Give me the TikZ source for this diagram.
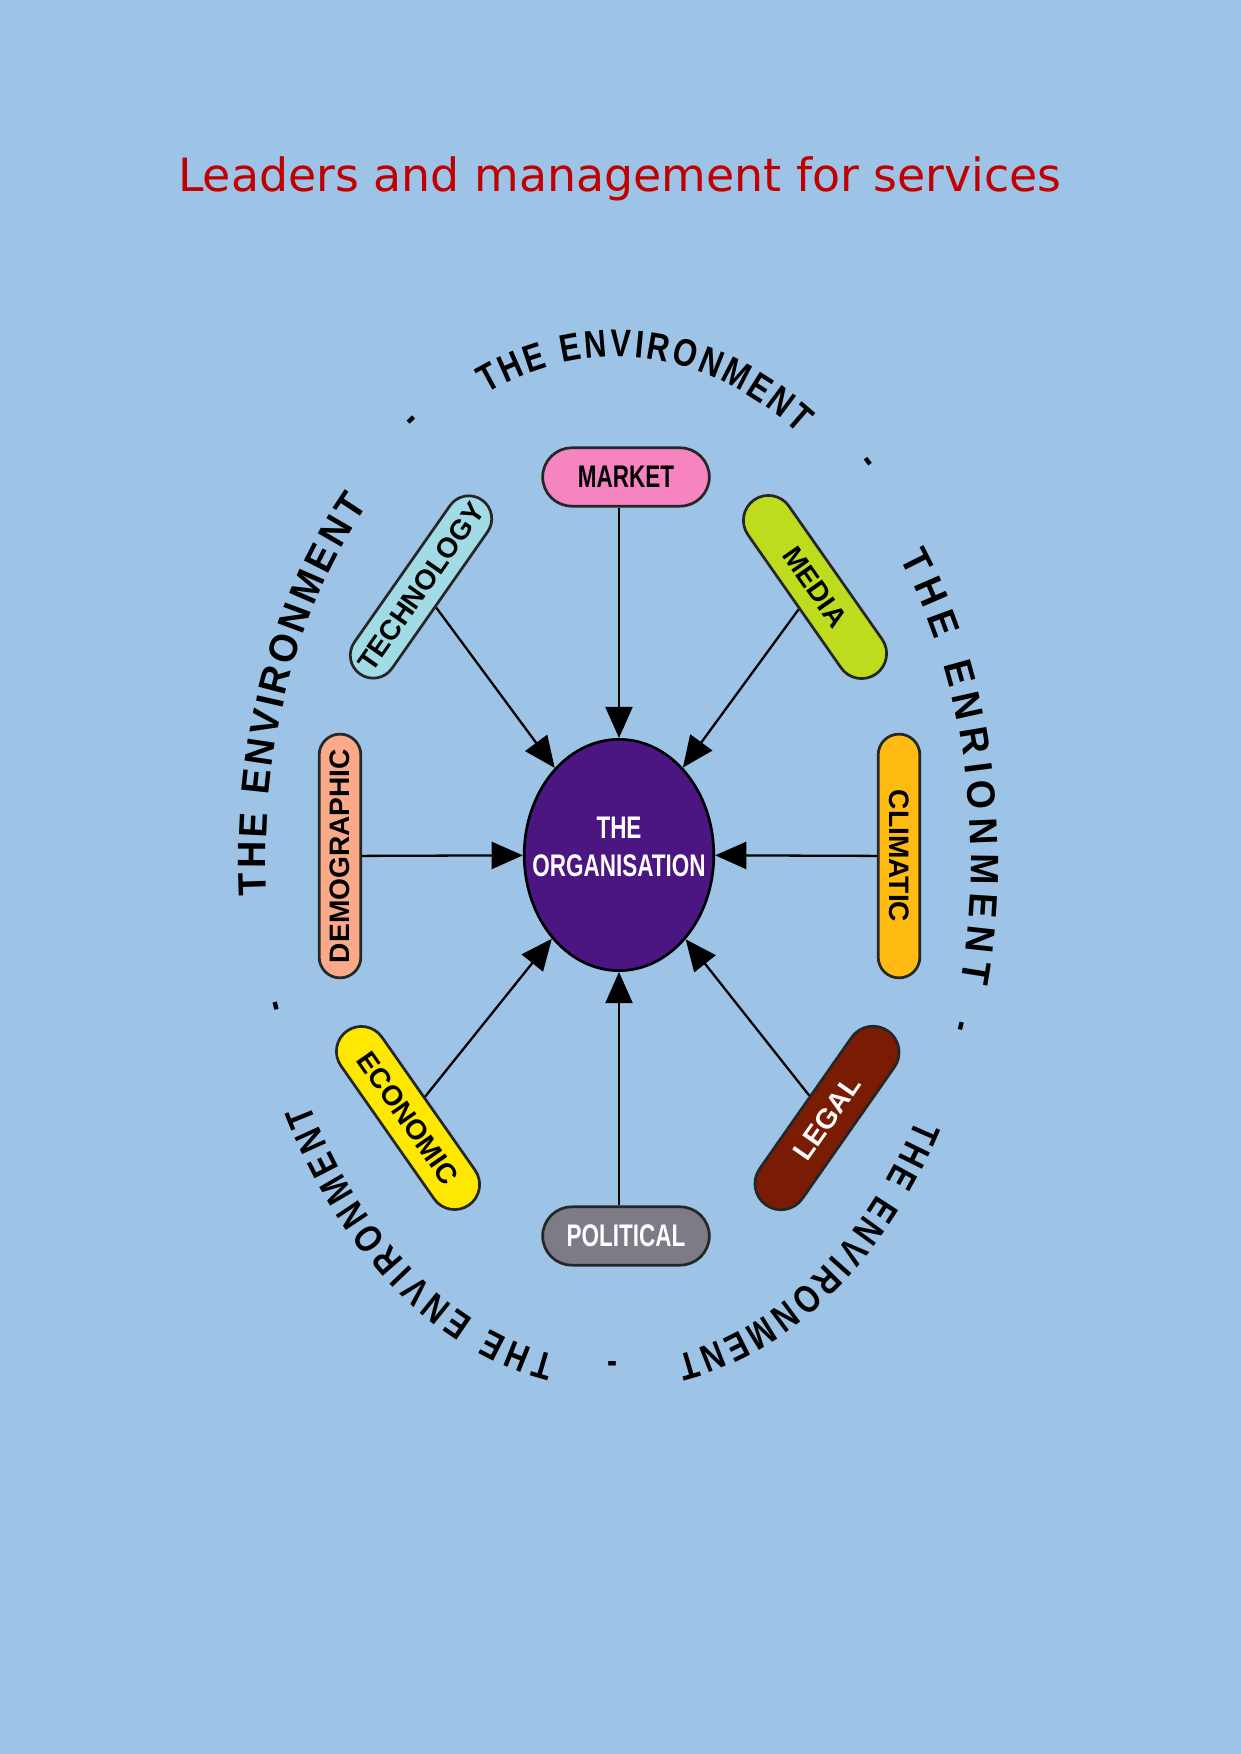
\documentclass[tikz,border=0pt]{standalone}
\usepackage{fontspec}
\setmainfont{DejaVu Sans}
\newfontfamily\lblfont[FakeStretch=0.72]{Liberation Sans}
\newfontfamily\sidefont{Liberation Sans}
\newfontfamily\ringfont[FakeStretch=0.8]{Liberation Sans}
\newfontfamily\sideringfont[FakeStretch=0.95]{Liberation Sans}
\newcommand\ringtop{\ringfont\bfseries\fontsize{18.5}{18}\selectfont}
\newcommand\ringside{\sideringfont\bfseries\fontsize{19}{18}\selectfont}
\usetikzlibrary{positioning,shapes.geometric,shapes.misc,arrows.meta,decorations.text}
\definecolor{sky}{RGB}{157,195,230}
\definecolor{titlered}{RGB}{192,0,0}
\definecolor{orgpurple}{RGB}{75,22,130}
\definecolor{mktpink}{RGB}{245,132,192}
\definecolor{techblue}{RGB}{161,220,230}
\definecolor{medialime}{RGB}{190,220,30}
\definecolor{demosalmon}{RGB}{250,170,136}
\definecolor{climorange}{RGB}{255,187,17}
\definecolor{econyellow}{RGB}{255,232,0}
\definecolor{legalred}{RGB}{122,28,4}
\definecolor{polgrey}{RGB}{125,123,134}

\begin{document}
\begin{tikzpicture}[x=0.48pt,y=0.48pt,
  box/.style={rounded rectangle,draw=black!85,line width=1.3pt,inner sep=2pt,
    font=\sidefont\bfseries\fontsize{13.5}{14}\selectfont,minimum width=108pt,minimum height=22pt},
  flat/.style={box,font=\lblfont\bfseries\fontsize{15}{15}\selectfont,minimum width=84pt,minimum height=28pt},
  arr/.style={line width=1.1pt,-{Triangle[length=15pt,width=13pt]}},
  ring/.style 2 args={decorate,decoration={text along path,text align={fit to path},text={|#2|#1}}},
  sepmark/.style={font=\ringfont\bfseries\fontsize{18}{18}\selectfont,inner sep=0pt}]
\fill[sky] (0,0) rectangle (1241,1754);
\useasboundingbox (0,0) rectangle (1241,1754);

\node[text=titlered,font=\fontsize{22}{26}\selectfont,anchor=base] (title) at (620,1562) {Leaders and management for services};

\coordinate (c) at (616,894);
\path[ring={THE ENVIRONMENT}{\ringtop}] (c) ++(112:345 and 503) arc[start angle=112,end angle=58,x radius=345,y radius=503];
\path[ring={THE ENRIONMENT}{\ringside}] (c) ++(37:355 and 503) arc[start angle=37,end angle=-14,x radius=355,y radius=503];
\path[ring={THE ENVIRONMENT}{\ringtop}] (c) ++(-31:350 and 503) arc[start angle=-31,end angle=-80,x radius=350,y radius=503];
\path[ring={THE ENVIRONMENT}{\ringtop}] (c) ++(-100:350 and 503) arc[start angle=-100,end angle=-151,x radius=350,y radius=503];
\path[ring={THE ENVIRONMENT}{\ringside}] (c) ++(184:350 and 503) arc[start angle=184,end angle=135,x radius=350,y radius=503];
\node[sepmark,rotate=44] (d1) at (414,1331) {-};
\node[sepmark,rotate=-53] (d2) at (865,1290) {-};
\node[sepmark,rotate=76] (d3) at (965,727) {-};
\node[sepmark] (d4) at (612,386) {-};
\node[sepmark,rotate=-77] (d5) at (272,747) {-};

\node[ellipse,fill=orgpurple,draw=black,line width=1.3pt,minimum width=91pt,minimum height=111pt,inner sep=0pt] (org) at (619,899) {};
\node[text=white,align=center,font=\lblfont\bfseries\fontsize{15}{18}\selectfont] (orgtext) at ([yshift=4pt]org.center) {THE\\ORGANISATION};

\node[flat,fill=mktpink] (mkt) at (626,1277) {MARKET};
\node[flat,fill=polgrey,text=white] (pol) at (626,518) {POLITICAL};
\node[box,fill=techblue,rotate=55,minimum width=106pt] (tech) at (421,1167) {TECHNOLOGY};
\node[box,fill=medialime,rotate=-55,minimum width=106pt,minimum height=24pt] (media) at (815,1167) {MEDIA};
\node[box,fill=demosalmon,rotate=90,minimum width=121pt,minimum height=20pt] (demo) at (340,898) {DEMOGRAPHIC};
\node[box,fill=climorange,rotate=-90,minimum width=121pt,minimum height=20pt] (clim) at (899,898) {CLIMATIC};
\node[box,fill=econyellow,rotate=-55,minimum width=106pt,minimum height=24pt] (econ) at (408,636) {ECONOMIC};
\node[box,fill=legalred,text=white,rotate=55,minimum width=106pt,minimum height=25pt] (legal) at (827,636) {LEGAL};

\draw[arr] (mkt.south -| org.center) -- (org);
\draw[arr] (pol.north -| org.center) -- (org);
\draw[arr] (tech) -- (org);
\draw[arr] (media) -- (org);
\draw[arr] (demo) -- (org);
\draw[arr] (clim) -- (org);
\draw[arr] (econ) -- (org);
\draw[arr] (legal) -- (org);
\end{tikzpicture}
\end{document}
